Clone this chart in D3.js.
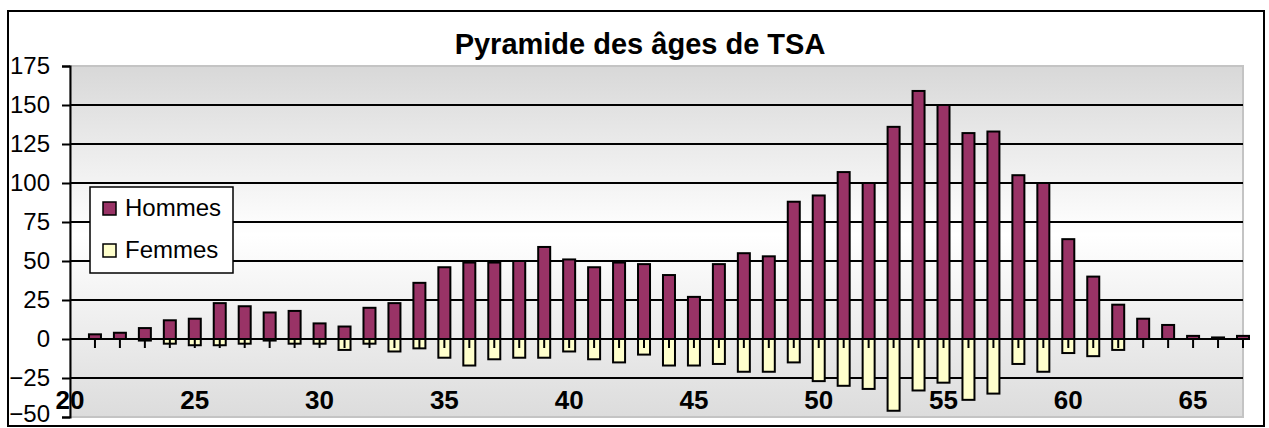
<!DOCTYPE html>
<html>
<head>
<meta charset="utf-8">
<script src="https://cdn.jsdelivr.net/npm/d3@7"></script>
<style>
  body { margin: 0; background: #fff; }
  svg { display: block; font-family: "Liberation Sans", Arial, sans-serif; }
</style>
</head>
<body>
<div id="chart"></div>
<script>
// ages (one bar per year)
const ages = d3.range(21, 68)
const hommes = [3, 4, 7, 12, 13, 23, 21, 17, 18, 10, 8, 20, 23, 36, 46, 49, 49, 50, 59, 51,
  46, 49, 48, 41, 27, 48, 55, 53, 88, 92, 107, 100, 136, 159, 150, 132, 133, 105, 100, 64,
  40, 22, 13, 9, 2, 1, 2]
const femmes = [0, 0, 1, 3, 4, 4, 3, 1, 3, 3, 7, 3, 8, 6, 12, 17, 13, 12, 12, 8,
  13, 15, 10, 17, 17, 16, 21, 21, 15, 27, 30, 32, 46, 33, 28, 39, 35, 16, 21, 9,
  11, 7, 0, 0, 0, 0, 0]
const yTicks = [-50, -25, 0, 25, 50, 75, 100, 125, 150, 175]
const xLabels = [20, 25, 30, 35, 40, 45, 50, 55, 60, 65]
const seriesNames = ["Hommes", "Femmes"]
const colors = ["#993366", "#ffffcc"]

const width = 1269, height = 428
const plot = { left: 70, right: 1243, top: 66, bottom: 417 }

const svg = d3.select("#chart").append("svg")
    .attr("width", width)
    .attr("height", height)

const x = d3.scaleLinear().domain([20, 67]).range([plot.left, plot.right])
const y = d3.scaleLinear().domain([-50, 175]).range([plot.bottom, plot.top])

// plot background gradient
const grad = svg.append("defs").append("linearGradient")
    .attr("id", "bg").attr("x1", 0).attr("y1", 0).attr("x2", 0).attr("y2", 1)
grad.append("stop").attr("offset", "0%").attr("stop-color", "#d8d8d8")
grad.append("stop").attr("offset", "48%").attr("stop-color", "#ffffff")
grad.append("stop").attr("offset", "100%").attr("stop-color", "#dcdcdc")

svg.append("rect")
    .attr("x", plot.left).attr("y", plot.top)
    .attr("width", plot.right - plot.left)
    .attr("height", plot.bottom - plot.top)
    .attr("fill", "url(#bg)")
    .attr("stroke", "#c4c4c4")
    .attr("stroke-width", 2)

// gridlines
svg.append("g")
  .selectAll("line")
  .data(yTicks.filter(d => d > -50 && d < 175))
  .join("line")
    .attr("x1", plot.left).attr("x2", plot.right)
    .attr("y1", d => y(d)).attr("y2", d => y(d))
    .attr("stroke", "#000")
    .attr("stroke-width", 2)

const barW = 12

// hommes above zero
svg.append("g")
  .selectAll("rect")
  .data(ages)
  .join("rect")
    .attr("x", (d, i) => x(d) - barW / 2)
    .attr("y", (d, i) => y(hommes[i]))
    .attr("width", barW)
    .attr("height", (d, i) => y(0) - y(hommes[i]))
    .attr("fill", colors[0])
    .attr("stroke", "#000")
    .attr("stroke-width", 2)

// femmes below zero
svg.append("g")
  .selectAll("rect")
  .data(ages.filter((d, i) => femmes[i] > 0))
  .join("rect")
    .attr("x", d => x(d) - barW / 2)
    .attr("y", y(0))
    .attr("width", barW)
    .attr("height", d => y(-femmes[ages.indexOf(d)]) - y(0))
    .attr("fill", colors[1])
    .attr("stroke", "#000")
    .attr("stroke-width", 2)

// category axis at zero, ticks pointing down
svg.append("line")
    .attr("x1", plot.left).attr("x2", plot.right)
    .attr("y1", y(0)).attr("y2", y(0))
    .attr("stroke", "#000").attr("stroke-width", 2)
svg.append("g")
  .selectAll("line")
  .data(ages)
  .join("line")
    .attr("x1", d => x(d)).attr("x2", d => x(d))
    .attr("y1", y(0)).attr("y2", y(0) + 9)
    .attr("stroke", "#000").attr("stroke-width", 2)

// value axis
const yAxis = svg.append("g")
    .attr("transform", `translate(${plot.left},0)`)
    .call(d3.axisLeft(y).tickValues(yTicks).tickSize(8).tickPadding(12))
yAxis.select(".domain").attr("stroke-width", 2)
yAxis.selectAll(".tick line").attr("stroke-width", 2)
yAxis.selectAll("text")
    .attr("font-size", 24)
    .attr("font-family", "Liberation Sans, Arial, sans-serif")
    .attr("fill", "#000")
    .attr("dy", (d) => d === -50 ? "0.2em" : "0.32em")

// age labels
svg.append("g")
  .selectAll("text")
  .data(xLabels)
  .join("text")
    .attr("x", d => x(d))
    .attr("y", 409)
    .attr("text-anchor", "middle")
    .attr("font-size", 26)
    .attr("font-weight", "bold")
    .text(d => d)

// title
svg.append("text")
    .attr("x", 640).attr("y", 54)
    .attr("text-anchor", "middle")
    .attr("font-size", 29)
    .attr("font-weight", "bold")
    .text("Pyramide des âges de TSA")

// legend
const legend = svg.append("g")
legend.append("rect")
    .attr("x", 90).attr("y", 187)
    .attr("width", 143).attr("height", 86)
    .attr("fill", "#fff")
    .attr("stroke", "#000")
    .attr("stroke-width", 1.5)
seriesNames.forEach((name, i) => {
  legend.append("rect")
      .attr("x", 103).attr("y", 202 + i * 42)
      .attr("width", 13).attr("height", 13)
      .attr("fill", colors[i])
      .attr("stroke", "#000")
      .attr("stroke-width", 1.5)
  legend.append("text")
      .attr("x", 125).attr("y", 216 + i * 42)
      .attr("font-size", 24)
      .text(name)
})

// outer frame
svg.append("rect")
    .attr("x", 8).attr("y", 11)
    .attr("width", 1256).attr("height", 415)
    .attr("fill", "none")
    .attr("stroke", "#000")
    .attr("stroke-width", 2)
</script>
</body>
</html>
